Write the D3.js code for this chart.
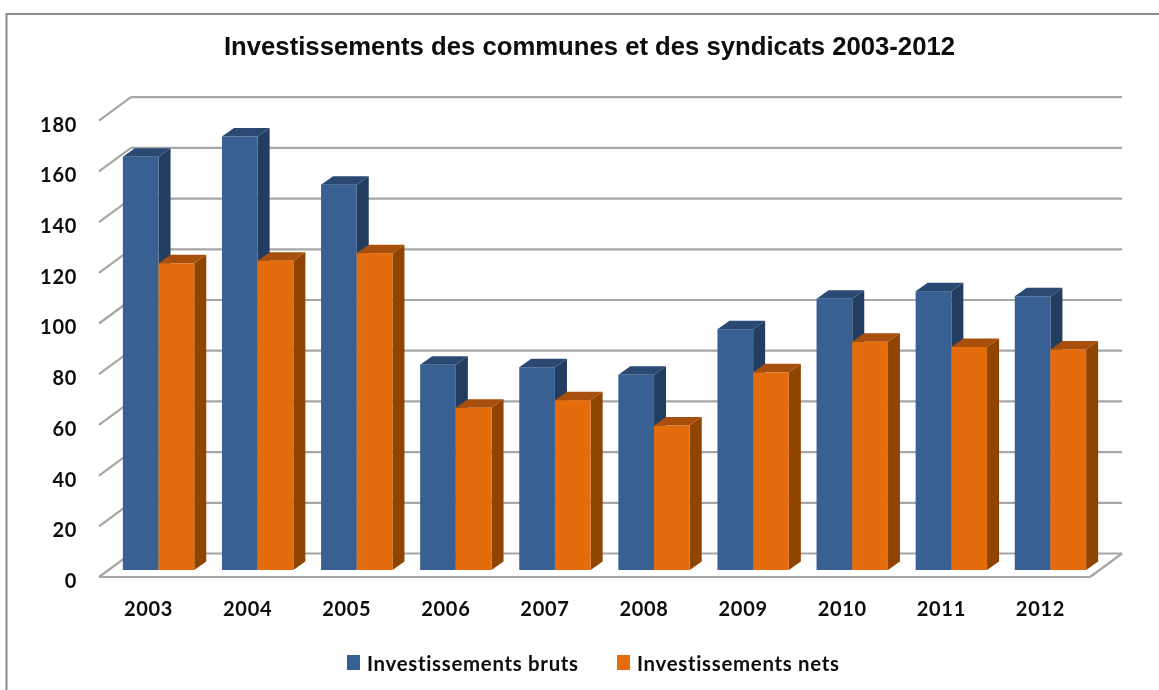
<!DOCTYPE html>
<html>
<head>
<meta charset="utf-8">
<script src="https://cdn.jsdelivr.net/npm/d3@7"></script>
<style>
  body { margin: 0; background: #fff; }
  svg { display: block; }
  .axis text { font-family: Lato, sans-serif; font-weight: 700; font-size: 20px; fill: #0a0a0a; letter-spacing: 0.7px; }
</style>
</head>
<body>
<div id="chart"></div>
<script>
const years = ["2003", "2004", "2005", "2006", "2007", "2008", "2009", "2010", "2011", "2012"];
const bruts = [163, 171, 152, 81, 80, 77, 95, 107, 110, 108];
const nets = [121, 122, 125, 64, 67, 57, 78, 90, 88, 87];
const seriesNames = ["Investissements bruts", "Investissements nets"];
const yTicks = [0, 20, 40, 60, 80, 100, 120, 140, 160, 180];

const width = 1159;
const height = 690;

const svg = d3.select("#chart").append("svg")
  .attr("width", width)
  .attr("height", height);

// slight softening, the reference is a scaled-up bitmap
const defs = svg.append("defs");
defs.append("filter").attr("id", "soft")
  .append("feGaussianBlur").attr("stdDeviation", 0.55);
defs.append("filter").attr("id", "softLine")
  .append("feGaussianBlur").attr("stdDeviation", 0.7);
defs.append("filter").attr("id", "softText")
  .append("feGaussianBlur").attr("stdDeviation", 0.3);

// outer frame, only top and left are visible
svg.append("path")
  .attr("d", `M6.5,${height}V14H${width}`)
  .attr("fill", "none")
  .attr("stroke", "#8c8c8c")
  .attr("stroke-width", 2);

svg.append("text")
  .attr("x", 589.5)
  .attr("y", 55)
  .attr("text-anchor", "middle")
  .attr("filter", "url(#softText)")
  .style("font-family", "'Liberation Sans', Arial, sans-serif")
  .style("font-weight", "700")
  .style("font-size", "25.7px")
  .attr("fill", "#0a0a0a")
  .text("Investissements des communes et des syndicats 2003-2012");

const x = d3.scaleBand().domain(years).range([99, 1090]);
const y = d3.scaleLinear().domain([0, 180]).range([577, 120.7]);
const xInner = d3.scaleBand().domain([0, 1]).range([0, 71.4]);

// depth of the floor and of the bars
const wall = { dx: 32, dy: 23.5 };
const depth = { dx: 12, dy: 8.5 };
const barOffset = { dx: 10, dy: 7 };

// Gridlines on the back wall and the diagonals on the side wall
const grid = svg.append("g")
  .attr("fill", "none")
  .attr("stroke", "#a6a6a6")
  .attr("stroke-width", 2.2)
  .attr("filter", "url(#softLine)");

grid.selectAll(".back")
  .data(yTicks)
  .join("line")
  .attr("class", "back")
  .attr("x1", x.range()[0] + wall.dx)
  .attr("x2", x.range()[1] + wall.dx)
  .attr("y1", d => y(d) - wall.dy)
  .attr("y2", d => y(d) - wall.dy);

grid.selectAll(".side")
  .data(yTicks)
  .join("line")
  .attr("class", "side")
  .attr("x1", x.range()[0])
  .attr("x2", x.range()[0] + wall.dx)
  .attr("y1", d => y(d))
  .attr("y2", d => y(d) - wall.dy);

// floor front edge and right edge
grid.append("line")
  .attr("x1", x.range()[0])
  .attr("x2", x.range()[1])
  .attr("y1", y(0))
  .attr("y2", y(0));
grid.append("line")
  .attr("x1", x.range()[1])
  .attr("x2", x.range()[1] + wall.dx)
  .attr("y1", y(0))
  .attr("y2", y(0) - wall.dy);

// Bars
const series = [
  { values: bruts, front: "#376092", top: "#2a4a72", side: "#223d5f" },
  { values: nets, front: "#e46c0a", top: "#a84f07", side: "#8f4406" }
];

const bars = svg.append("g").attr("filter", "url(#soft)");

years.forEach((year, i) => {
  series.forEach((s, k) => {
    const left = x(year) + (x.step() - 71.4) / 2 + barOffset.dx + xInner(k);
    const right = left + xInner.bandwidth();
    const top = y(s.values[i]) - barOffset.dy;
    const bottom = y(0) - barOffset.dy;
    const g = bars.append("g");

    g.append("path")
      .attr("fill", s.side)
      .attr("d", d3.line()([[right, top], [right + depth.dx, top - depth.dy], [right + depth.dx, bottom - depth.dy], [right, bottom]]));
    g.append("path")
      .attr("fill", s.top)
      .attr("d", d3.line()([[left, top], [left + depth.dx, top - depth.dy], [right + depth.dx, top - depth.dy], [right, top]]));
    g.append("rect")
      .attr("x", left)
      .attr("y", top)
      .attr("width", right - left)
      .attr("height", bottom - top)
      .attr("fill", s.front);
  });
});

// Axes
const yAxis = svg.append("g")
  .attr("class", "axis")
  .attr("transform", "translate(99,4)")
  .attr("filter", "url(#softText)")
  .call(d3.axisLeft(y).tickValues(yTicks).tickSize(0).tickPadding(22));
yAxis.select(".domain").remove();

const xAxis = svg.append("g")
  .attr("class", "axis")
  .attr("transform", "translate(0,602)")
  .attr("filter", "url(#softText)")
  .call(d3.axisBottom(x).tickSize(0).tickPadding(0));
xAxis.select(".domain").remove();

// Legend
const legendX = [347, 617];
const legend = svg.selectAll(".legend")
  .data(seriesNames)
  .join("g")
  .attr("class", "legend")
  .attr("transform", (d, i) => `translate(${legendX[i]},655)`);

legend.append("rect")
  .attr("width", 13)
  .attr("height", 15)
  .attr("fill", (d, i) => series[i].front);

legend.append("text")
  .attr("x", 20)
  .attr("y", 16)
  .attr("filter", "url(#softText)")
  .style("font-family", "Lato, sans-serif")
  .style("font-weight", "700")
  .style("font-size", "20.4px")
  .style("letter-spacing", "0.7px")
  .attr("fill", "#0a0a0a")
  .text(d => d);
</script>
</body>
</html>
